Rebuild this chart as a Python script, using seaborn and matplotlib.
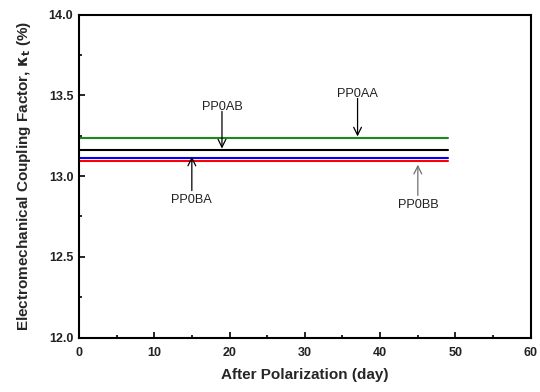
import matplotlib
matplotlib.use("Agg")
import matplotlib.pyplot as plt
import seaborn as sns
import pandas as pd
from matplotlib.ticker import MultipleLocator

sns.set_theme(style="ticks")
plt.rcParams['font.family'] = ['Liberation Sans', 'DejaVu Sans']

# Data
samples = ["PP0AA", "PP0AB", "PP0BA", "PP0BB"]
days = [0, 49]
kt_values = {
    "PP0AA": [13.235, 13.235],
    "PP0AB": [13.160, 13.160],
    "PP0BA": [13.113, 13.113],
    "PP0BB": [13.093, 13.093],
}
colors = {"PP0AA": "#1a8a1a", "PP0AB": "#000000", "PP0BA": "#0000ff", "PP0BB": "#ff0000"}

# annotation: label, text x, text y, arrow tip y, arrow color
ann_labels = ["PP0AB", "PP0AA", "PP0BA", "PP0BB"]
ann_x = [19, 37, 15, 45]
ann_text_y = [13.43, 13.51, 12.85, 12.82]
ann_tail_y = [13.40, 13.48, 12.91, 12.88]
ann_tip_y = [13.17, 13.245, 13.12, 13.07]
ann_colors = ["black", "black", "black", "#707070"]

rows = []
for s in samples:
    for d, v in zip(days, kt_values[s]):
        rows.append({"day": d, "kt": v, "sample": s})
df = pd.DataFrame(rows)

fig = plt.figure(figsize=(5.4, 3.92), dpi=100)
ax = fig.add_axes([0.146, 0.139, 0.837, 0.824])

sns.lineplot(data=df, x="day", y="kt", hue="sample", palette=colors,
             linewidth=1.5, legend=False, ax=ax)

for lab, x, ty, tail, tip, c in zip(ann_labels, ann_x, ann_text_y, ann_tail_y, ann_tip_y, ann_colors):
    ax.annotate("", xy=(x, tip), xytext=(x, tail),
                arrowprops=dict(arrowstyle="->", color=c, lw=0.9,
                                mutation_scale=14, shrinkA=0, shrinkB=0))
    ax.text(x, ty, lab, ha="center", va="center", fontsize=9.2, color="#222222")

ax.set_xlim(0, 60)
ax.set_ylim(12.0, 14.0)
ax.xaxis.set_major_locator(MultipleLocator(10))
ax.xaxis.set_minor_locator(MultipleLocator(5))
ax.yaxis.set_major_locator(MultipleLocator(0.5))
ax.yaxis.set_minor_locator(MultipleLocator(0.25))
ax.set_yticks([12.0, 12.5, 13.0, 13.5, 14.0])
ax.set_yticklabels(["12.0", "12.5", "13.0", "13.5", "14.0"])
ax.tick_params(which="both", direction="in", width=1.2, colors="black",
               labelsize=9, pad=4)
ax.tick_params(axis="x", which="both", pad=7)
ax.tick_params(which="major", length=4)
ax.tick_params(which="minor", length=2.5)
for lab in ax.get_xticklabels() + ax.get_yticklabels():
    lab.set_fontweight("bold")
    lab.set_color("#222222")
for sp in ax.spines.values():
    sp.set_visible(True)
    sp.set_linewidth(1.5)
    sp.set_color("black")

ax.set_xlabel("After Polarization (day)", fontsize=11, fontweight="bold", labelpad=6)
ax.set_ylabel(r"Electromechanical Coupling Factor, $\mathbf{\kappa_t}$ (%)",
              fontsize=11, fontweight="bold", labelpad=11)

fig.savefig("out.png", dpi=100)
